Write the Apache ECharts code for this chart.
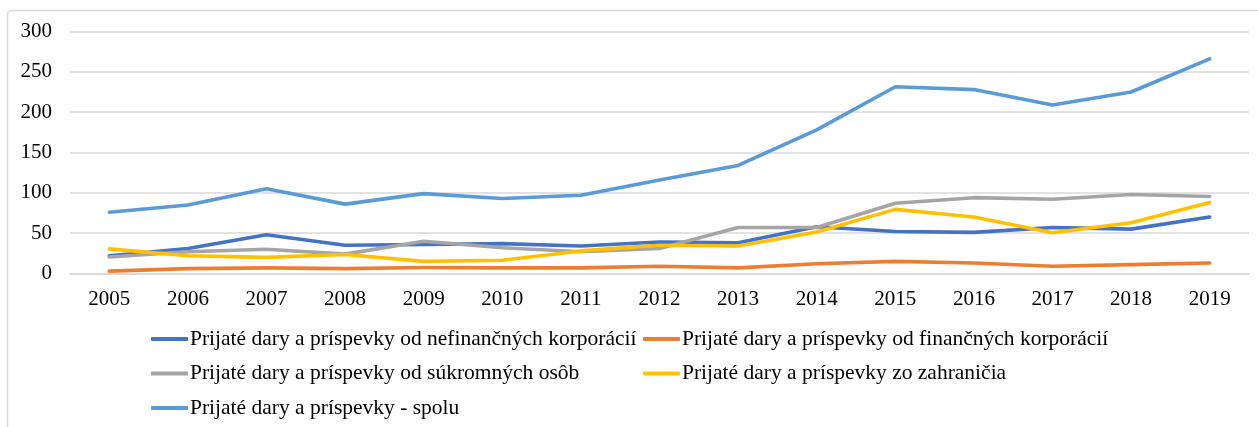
<!DOCTYPE html>
<html>
<head>
<meta charset="utf-8">
<script src="https://cdn.jsdelivr.net/npm/echarts@6/dist/echarts.min.js"></script>
<style>
  html, body { margin: 0; padding: 0; background: #fff; }
  #main { width: 1258px; height: 427px; }
</style>
</head>
<body>
<div id="main"></div>
<script>
var years = ['2005', '2006', '2007', '2008', '2009', '2010', '2011', '2012', '2013', '2014', '2015', '2016', '2017', '2018', '2019'];

// hodnoty odčítané z grafu
var nefinancne = [22, 31, 48, 35, 36, 37, 34, 39, 38, 58, 52, 51, 57, 55, 70];
var financne   = [3, 6, 7, 6, 7.5, 7, 7, 9, 7, 12, 15, 13, 9, 11, 13];
var sukromne   = [20.5, 27, 30, 24, 40, 32, 27, 31, 57, 57, 87, 94, 92, 98, 95.5];
var zahranicie = [30.5, 22, 20, 23.5, 15, 16.5, 28, 35, 34, 51.5, 79.5, 70, 50.5, 63, 88];
var spolu      = [76, 85, 105, 86, 99, 93, 97, 116, 134, 178, 231.5, 228, 209, 225, 266];

var names = [
    'Prijaté dary a príspevky od nefinančných korporácií',
    'Prijaté dary a príspevky od finančných korporácií',
    'Prijaté dary a príspevky od súkromných osôb',
    'Prijaté dary a príspevky zo zahraničia',
    'Prijaté dary a príspevky - spolu'
];
var colors = ['#4472C4', '#ED7D31', '#A5A5A5', '#FFC000', '#5B9BD5'];
var values = [nefinancne, financne, sukromne, zahranicie, spolu];

var font = '"Liberation Serif", "Times New Roman", serif';

var myChart = echarts.init(document.getElementById('main'));

var series = names.map(function (n, i) {
    return {
        name: n,
        type: 'line',
        data: values[i],
        showSymbol: false,
        symbol: 'none',
        color: colors[i],
        lineStyle: { width: 3.6, color: colors[i], cap: 'round', join: 'round' }
    };
});

var legendCommon = {
    orient: 'vertical',
    icon: 'roundRect',
    itemWidth: 37,
    itemHeight: 4,
    itemGap: 12.5,
    padding: 0,
    textStyle: { fontFamily: font, fontSize: 21.5, color: '#000', padding: [0, 0, 0, -3], lineHeight: 22 }
};

myChart.setOption({
    animation: false,
    graphic: [{
        type: 'rect',
        shape: { x: 7.5, y: 10.5, width: 1300, height: 500, r: 4 },
        style: { fill: 'none', stroke: '#D9D9D9', lineWidth: 1.5 },
        silent: true
    }],
    legend: [
        Object.assign({ left: 151, top: 328, data: [names[0], names[2], names[4]] }, legendCommon),
        Object.assign({ left: 643, top: 328, data: [names[1], names[3]] }, legendCommon)
    ],
    grid: { left: 70, right: 9, top: 31.5, bottom: 153.5, containLabel: false },
    xAxis: {
        type: 'category',
        data: years,
        boundaryGap: true,
        axisLine: { lineStyle: { color: '#D9D9D9', width: 1.5 } },
        axisTick: { show: false },
        axisLabel: { fontFamily: font, fontSize: 21, color: '#000', margin: 15 }
    },
    yAxis: {
        type: 'value',
        min: 0,
        max: 300,
        interval: 50,
        axisLine: { show: false },
        axisTick: { show: false },
        splitLine: { lineStyle: { color: '#D9D9D9', width: 1.5 } },
        axisLabel: { fontFamily: font, fontSize: 21, color: '#000', margin: 18 }
    },
    series: series
});
</script>
</body>
</html>
